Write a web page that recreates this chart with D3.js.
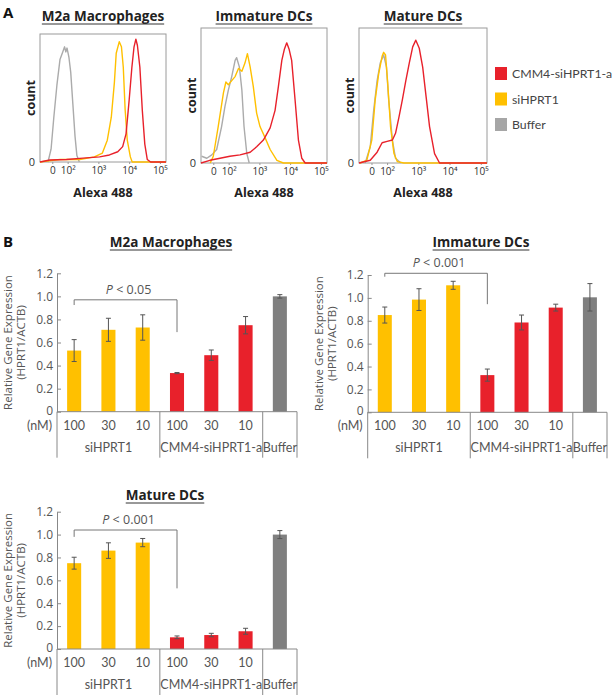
<!DOCTYPE html>
<html>
<head>
<style>
  body { margin: 0; background: #fff; }
  svg text { font-family: "Open Sans", sans-serif; }
  .ttl { font-weight: bold; font-size: 13.5px; fill: #222; }
  .panel { font-weight: bold; font-size: 15px; fill: #111; }
  .htick text { font-size: 10px; fill: #333; }
  .hlab { font-weight: bold; font-size: 12.5px; fill: #222; }
  .ytick text { font-size: 12px; fill: #555; }
  .blab { font-size: 11.5px; fill: #555; }
  svg text.cat { font-family: Lato, sans-serif; font-size: 12.5px; fill: #555; }
  .ptxt { font-size: 12.5px; fill: #555; }
  svg text.leg { font-family: Lato, sans-serif; font-size: 12.3px; fill: #444; }
</style>
</head>
<body>
<svg id="fig" width="614" height="698"></svg>
<script src="https://d3js.org/d3.v7.min.js"></script>
<script>
// ---- panel A: flow histograms, x in decades, y as fraction of the frame height
const histDomain = [1.1, 5.2];
const histTickPos = [1.5, 2, 3, 4, 5];
const histTickLabels = ["0", "10²", "10³", "10⁴", "10⁵"];

const m2aBuffer = [[1.36,0],[1.46,0.1],[1.55,0.35],[1.65,0.6],[1.75,0.8],[1.84,0.86],[1.9,0.9],[1.94,0.86],[1.98,0.89],[2.04,0.82],[2.1,0.7],[2.17,0.45],[2.24,0.2],[2.3,0.05],[2.38,0]];
const m2aSi = [[1.1,0],[1.4,0.01],[1.75,0.02],[2.39,0.02],[2.87,0.04],[3.13,0.07],[3.29,0.17],[3.42,0.35],[3.52,0.62],[3.58,0.85],[3.68,0.94],[3.75,0.9],[3.81,0.74],[3.87,0.41],[3.94,0.17],[4.04,0.04],[4.1,0],[5.2,0]];
const m2aCmm = [[1.1,0],[1.42,0.016],[1.96,0.02],[2.5,0.03],[3.04,0.04],[3.36,0.055],[3.63,0.08],[3.79,0.12],[3.9,0.22],[4.0,0.48],[4.09,0.74],[4.16,0.9],[4.22,0.96],[4.27,0.91],[4.35,0.74],[4.43,0.4],[4.51,0.14],[4.59,0.02],[4.7,0],[5.2,0]];

const imdBuffer = [[1.12,0.05],[1.29,0.035],[1.45,0.06],[1.61,0.1],[1.77,0.27],[1.88,0.42],[1.99,0.54],[2.1,0.64],[2.21,0.76],[2.26,0.78],[2.35,0.71],[2.43,0.54],[2.5,0.27],[2.59,0.07],[2.67,0]];
const imdSi = [[1.4,0],[1.5,0.05],[1.66,0.27],[1.83,0.52],[1.91,0.6],[1.99,0.58],[2.1,0.61],[2.21,0.64],[2.32,0.7],[2.43,0.68],[2.53,0.74],[2.61,0.81],[2.7,0.71],[2.8,0.57],[2.91,0.37],[3.02,0.27],[3.18,0.19],[3.35,0.1],[3.57,0.02],[3.78,0],[5.2,0]];
const imdCmm = [[1.1,0],[1.39,0.02],[1.72,0.035],[2.04,0.05],[2.37,0.06],[2.7,0.08],[2.91,0.12],[3.13,0.17],[3.35,0.26],[3.51,0.39],[3.62,0.57],[3.73,0.76],[3.81,0.84],[3.89,0.89],[3.97,0.84],[4.05,0.76],[4.16,0.47],[4.27,0.17],[4.38,0.035],[4.49,0],[5.2,0]];

const matBuffer = [[1.3,0],[1.46,0.12],[1.57,0.39],[1.68,0.61],[1.78,0.74],[1.89,0.8],[1.98,0.71],[2.05,0.47],[2.17,0.17],[2.27,0.035],[2.44,0]];
const matSi = [[1.13,0],[1.35,0.02],[1.51,0.17],[1.62,0.47],[1.73,0.66],[1.84,0.79],[1.89,0.82],[1.95,0.8],[2.02,0.59],[2.11,0.27],[2.22,0.07],[2.33,0.01],[2.54,0],[5.2,0]];
const matCmm = [[1.1,0],[1.46,0.02],[1.68,0.08],[1.84,0.15],[2.0,0.16],[2.17,0.17],[2.27,0.22],[2.38,0.34],[2.49,0.47],[2.6,0.61],[2.71,0.74],[2.82,0.86],[2.92,0.91],[3.03,0.85],[3.14,0.71],[3.25,0.49],[3.36,0.27],[3.52,0.07],[3.68,0],[5.2,0]];

const legendLabels = ["CMM4-siHPRT1-a", "siHPRT1", "Buffer"];

// ---- panel B: qPCR bars
const doses = ["100", "30", "10", "100", "30", "10", ""];
const groups = ["siHPRT1", "CMM4-siHPRT1-a", "Buffer"];
const groupSpans = [[0, 3], [3, 6], [6, 7]];
const yTicks = [0, 0.2, 0.4, 0.6, 0.8, 1.0, 1.2];
const yTickLabels = ["0", "0.2", "0.4", "0.6", "0.8", "1.0", "1.2"];

const m2aMeans = [0.53, 0.71, 0.73, 0.335, 0.49, 0.75, 1.0];
const m2aErr = [0.095, 0.1, 0.11, 0.005, 0.045, 0.075, 0.015];
const imdMeans = [0.85, 0.985, 1.11, 0.325, 0.785, 0.915, 1.005];
const imdErr = [0.07, 0.095, 0.035, 0.053, 0.065, 0.03, 0.12];
const matMeans = [0.75, 0.86, 0.93, 0.102, 0.122, 0.155, 1.0];
const matErr = [0.052, 0.068, 0.036, 0.012, 0.015, 0.026, 0.035];

// bracket: [top, left leg end, right leg end] in axis units
const m2aBracket = [0.97, 0.925, 0.69];
const imdBracket = [1.215, 1.185, 0.945];
const matBracket = [1.04, 0.98, 0.53];

const RED = "#e8212b", YEL = "#ffc000", GRY_H = "#ababab", GRY_B = "#7f7f7f";
const barColors = [YEL, YEL, YEL, RED, RED, RED, GRY_B];

const svg = d3.select("#fig");

function underlinedTitle(x, y, txt, cls) {
  const t = svg.append("text").attr("class", cls).attr("x", x).attr("y", y)
    .attr("text-anchor", "middle").text(txt);
  const w = t.node().getComputedTextLength();
  svg.append("line").attr("x1", x - w / 2).attr("x2", x + w / 2)
    .attr("y1", y + 3).attr("y2", y + 3).attr("stroke", "#333").attr("stroke-width", 1);
}

function histPanel(o) {
  const x = d3.scaleLinear().domain(histDomain).range([o.left, o.right]);
  const y = d3.scaleLinear().domain([0, 1]).range([o.bottom, o.top]);
  const g = svg.append("g");
  g.append("rect").attr("x", o.left).attr("y", o.top)
    .attr("width", o.right - o.left).attr("height", o.bottom - o.top)
    .attr("fill", "none").attr("stroke", "#9a9a9a").attr("stroke-width", 1);

  const ax = g.append("g").attr("class", "htick")
    .attr("transform", "translate(0," + o.bottom + ")")
    .call(d3.axisBottom(x).tickValues(histTickPos)
      .tickFormat(function(d, i) { return histTickLabels[i]; })
      .tickSize(2).tickPadding(3));
  ax.select(".domain").remove();
  ax.selectAll("line").attr("stroke", "#999");

  const line = d3.line().x(function(d) { return x(d[0]); }).y(function(d) { return y(d[1]); });
  o.curves.forEach(function(c) {
    g.append("path").datum(c.data).attr("d", line)
      .attr("fill", "none").attr("stroke", c.color).attr("stroke-width", 1.4)
      .attr("stroke-linejoin", "round");
  });

  g.append("text").attr("x", o.left - 5).attr("y", o.bottom + 4)
    .attr("text-anchor", "end").style("font-size", "11px").style("fill", "#333").text("0");
  g.append("text").attr("class", "hlab")
    .attr("transform", "translate(" + (o.left - 5) + "," + ((o.top + o.bottom) / 2) + ") rotate(-90)")
    .attr("text-anchor", "middle").text("count");
  g.append("text").attr("class", "hlab").attr("x", (o.left + o.right) / 2).attr("y", 197)
    .attr("text-anchor", "middle").text("Alexa 488");
  underlinedTitle((o.left + o.right) / 2, 21, o.title, "ttl");
}

histPanel({ left: 40, right: 166, top: 34, bottom: 162, title: "M2a Macrophages",
  curves: [{ data: m2aBuffer, color: GRY_H }, { data: m2aSi, color: YEL }, { data: m2aCmm, color: RED }] });
histPanel({ left: 201, right: 327, top: 28, bottom: 163, title: "Immature DCs",
  curves: [{ data: imdBuffer, color: GRY_H }, { data: imdSi, color: YEL }, { data: imdCmm, color: RED }] });
histPanel({ left: 359, right: 487, top: 28, bottom: 163, title: "Mature DCs",
  curves: [{ data: matBuffer, color: GRY_H }, { data: matSi, color: YEL }, { data: matCmm, color: RED }] });

// legend
const legColors = [RED, YEL, "#a6a6a6"];
legendLabels.forEach(function(l, i) {
  svg.append("rect").attr("x", 495).attr("y", 67 + i * 25.5).attr("width", 12).attr("height", 13)
    .attr("fill", legColors[i]);
  svg.append("text").attr("class", "leg").attr("x", 512).attr("y", 78 + i * 25.5).text(l);
});

svg.append("text").attr("class", "panel").attr("x", 3).attr("y", 18).text("A");
svg.append("text").attr("class", "panel").attr("x", 3).attr("y", 247).text("B");

function barPanel(o) {
  const x = d3.scaleBand().domain(d3.range(doses.length)).range([o.axisX, o.rightX])
    .paddingInner(0.59).paddingOuter(0.295);
  const y = d3.scaleLinear().domain([0, 1.2]).range([o.y0, o.y12]);
  const g = svg.append("g");
  const cx = function(i) { return x(i) + x.bandwidth() / 2; };

  const ay = g.append("g").attr("class", "ytick").attr("transform", "translate(" + o.axisX + ",0)")
    .call(d3.axisLeft(y).tickValues(yTicks)
      .tickFormat(function(d, i) { return yTickLabels[i]; })
      .tickSizeInner(-4).tickSizeOuter(0).tickPadding(4));
  ay.selectAll("line").attr("stroke", "#888");
  ay.select(".domain").attr("stroke", "#888");
  ay.selectAll("text").filter(function(d) { return d === 0; }).attr("dy", "0.2em");

  g.selectAll("rect.bar").data(o.means).enter().append("rect").attr("class", "bar")
    .attr("x", function(d, i) { return x(i); })
    .attr("y", function(d) { return y(d); })
    .attr("width", x.bandwidth())
    .attr("height", function(d) { return o.y0 - y(d); })
    .attr("fill", function(d, i) { return barColors[i]; });

  const eb = g.selectAll("g.err").data(o.means).enter().append("g").attr("class", "err")
    .attr("stroke", "#555").attr("stroke-width", 1);
  eb.append("line").attr("x1", function(d, i) { return cx(i); }).attr("x2", function(d, i) { return cx(i); })
    .attr("y1", function(d, i) { return y(d + o.errs[i]); }).attr("y2", function(d, i) { return y(d - o.errs[i]); });
  [1, -1].forEach(function(s) {
    eb.append("line").attr("x1", function(d, i) { return cx(i) - 2.5; }).attr("x2", function(d, i) { return cx(i) + 2.5; })
      .attr("y1", function(d, i) { return y(d + s * o.errs[i]); }).attr("y2", function(d, i) { return y(d + s * o.errs[i]); });
  });

  // category table
  const tb = o.y0 + 46;
  const tl = g.append("g").attr("stroke", "#888").attr("stroke-width", 1);
  tl.append("line").attr("x1", o.axisX).attr("x2", o.rightX).attr("y1", o.y0).attr("y2", o.y0);
  [0, 3, 6, 7].forEach(function(k) {
    const xx = k < doses.length ? x(k) - x.step() * x.paddingInner() / 2 : o.rightX;
    tl.append("line").attr("x1", xx).attr("x2", xx).attr("y1", o.y0).attr("y2", tb);
  });
  doses.forEach(function(d, i) {
    g.append("text").attr("class", "cat").attr("x", cx(i)).attr("y", o.y0 + 18)
      .attr("text-anchor", "middle").text(d);
  });
  g.append("text").attr("class", "cat").attr("x", o.axisX - 5).attr("y", o.y0 + 18)
    .attr("text-anchor", "end").text("(nM)");
  groups.forEach(function(gname, k) {
    const a = groupSpans[k][0], b = groupSpans[k][1] - 1;
    g.append("text").attr("class", "cat").attr("x", (cx(a) + cx(b)) / 2).attr("y", o.y0 + 40)
      .attr("text-anchor", "middle").text(gname);
  });

  // y label
  g.append("text").attr("class", "blab")
    .attr("transform", "translate(" + (o.axisX - 45) + "," + ((o.y0 + o.y12) / 2) + ") rotate(-90)")
    .attr("text-anchor", "middle").text("Relative Gene Expression");
  g.append("text").attr("class", "blab")
    .attr("transform", "translate(" + (o.axisX - 32) + "," + ((o.y0 + o.y12) / 2) + ") rotate(-90)")
    .attr("text-anchor", "middle").text("(HPRT1/ACTB)");

  // significance bracket
  const bx0 = cx(0), bx1 = cx(3);
  g.append("path")
    .attr("d", "M" + bx0 + "," + y(o.bracket[1]) + "V" + y(o.bracket[0]) + "H" + bx1 + "V" + y(o.bracket[2]))
    .attr("fill", "none").attr("stroke", "#777").attr("stroke-width", 1);
  const pt = g.append("text").attr("class", "ptxt").attr("x", (bx0 + bx1) / 2 + 3)
    .attr("y", y(o.bracket[0]) - 6).attr("text-anchor", "middle");
  pt.append("tspan").style("font-style", "italic").text("P");
  pt.append("tspan").text(" < " + o.p);

  underlinedTitle(o.titleX, o.titleY, o.title, "ttl");
}

barPanel({ axisX: 57, rightX: 297, y0: 411.7, y12: 273.3, means: m2aMeans, errs: m2aErr,
  bracket: m2aBracket, p: "0.05", title: "M2a Macrophages", titleX: 171, titleY: 247 });
barPanel({ axisX: 367.7, rightX: 607, y0: 412.3, y12: 275, means: imdMeans, errs: imdErr,
  bracket: imdBracket, p: "0.001", title: "Immature DCs", titleX: 481, titleY: 247 });
barPanel({ axisX: 57, rightX: 297, y0: 649, y12: 511.7, means: matMeans, errs: matErr,
  bracket: matBracket, p: "0.001", title: "Mature DCs", titleX: 165, titleY: 500 });
</script>
</body>
</html>
